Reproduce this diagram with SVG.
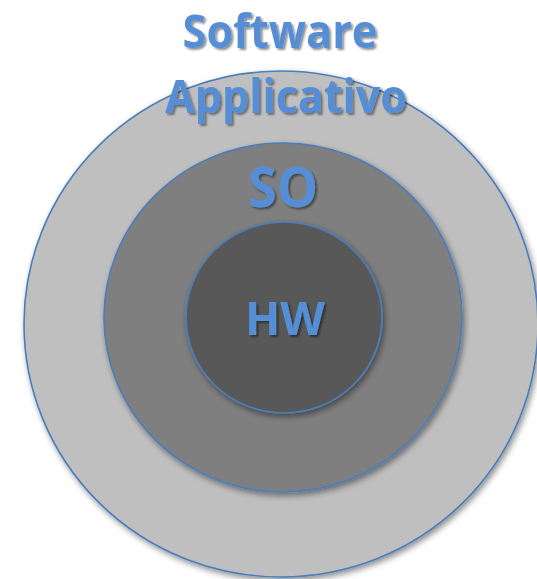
<svg xmlns="http://www.w3.org/2000/svg" width="537" height="579" viewBox="0 0 537 579">
  <defs>
    <!-- soft drop shadow under each ring -->
    <filter id="ringShadow" x="-10%" y="-10%" width="125%" height="125%">
      <feGaussianBlur in="SourceAlpha" stdDeviation="3"/>
      <feOffset dx="2" dy="3" result="blur"/>
      <feComponentTransfer><feFuncA type="linear" slope="0.45"/></feComponentTransfer>
      <feMerge><feMergeNode/><feMergeNode in="SourceGraphic"/></feMerge>
    </filter>
    <!-- shadow behind the labels -->
    <filter id="textShadow" x="-10%" y="-20%" width="125%" height="150%">
      <feGaussianBlur in="SourceAlpha" stdDeviation="1"/>
      <feOffset dx="2" dy="2" result="blur"/>
      <feComponentTransfer><feFuncA type="linear" slope="0.45"/></feComponentTransfer>
      <feMerge><feMergeNode/><feMergeNode in="SourceGraphic"/></feMerge>
    </filter>
  </defs>
  <style>
    .ring { stroke: #4a7ebb; stroke-width: 1.6; filter: url(#ringShadow); }
    .label { font-family: "Open Sans", "Liberation Sans", sans-serif; font-weight: 700; fill: #558ed5; text-anchor: middle; filter: url(#textShadow); }
  </style>

  <rect width="537" height="579" fill="#ffffff"/>

  <g id="software-applicativo">
    <ellipse class="ring" cx="281" cy="324" rx="257" ry="253" fill="#bfbfbf"/>
  </g>

  <g id="so">
    <ellipse class="ring" cx="283" cy="317.5" rx="179" ry="174.5" fill="#7f7f7f"/>
  </g>

  <g id="hw">
    <ellipse class="ring" cx="284" cy="317.5" rx="98" ry="95.5" fill="#595959"/>
  </g>

  <g id="labels">
    <text class="label" x="280" y="48" font-size="46" textLength="195" lengthAdjust="spacingAndGlyphs">Software</text>
    <text class="label" x="286" y="113" font-size="46" textLength="242" lengthAdjust="spacingAndGlyphs">Applicativo</text>
    <text class="label" x="283" y="207" font-size="55" textLength="70" lengthAdjust="spacingAndGlyphs">SO</text>
    <text class="label" x="285" y="335" font-size="46" textLength="80" lengthAdjust="spacingAndGlyphs">HW</text>
  </g>
</svg>
